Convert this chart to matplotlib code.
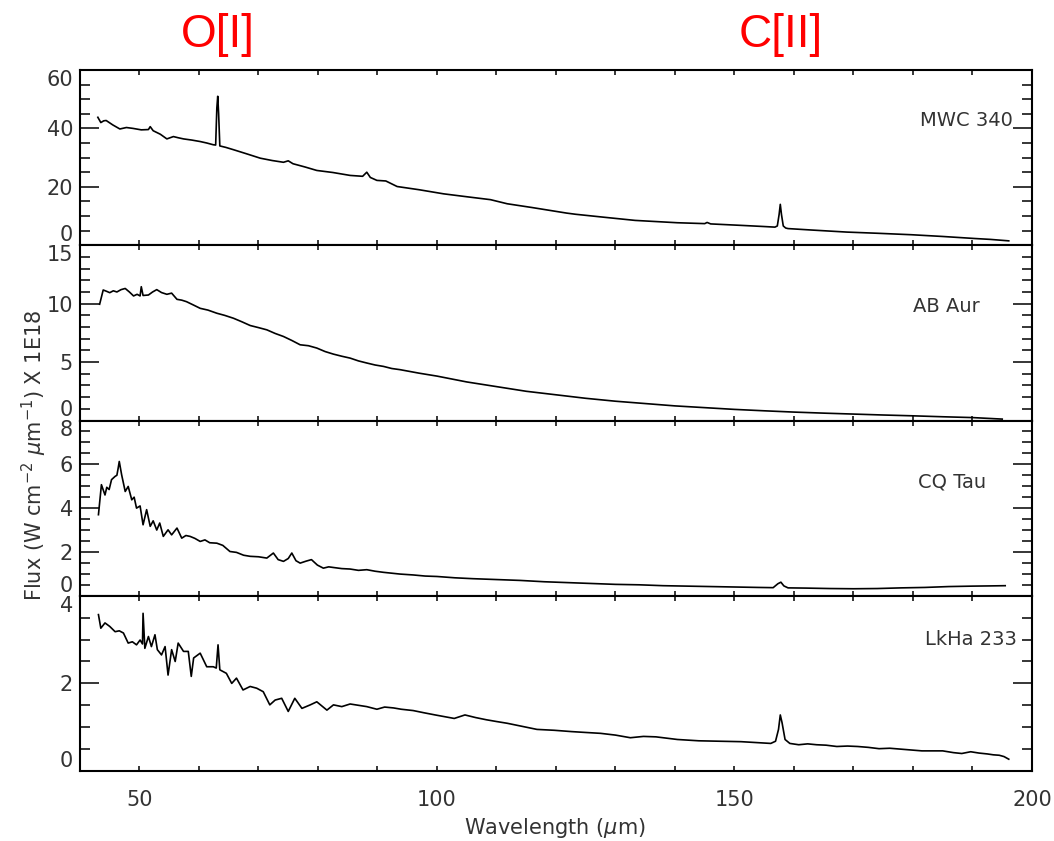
import matplotlib.pyplot as plt
import numpy as np
from matplotlib.ticker import MultipleLocator

# spectra (wavelength in micron, flux x 1E18)
wl_mwc = [43.0, 43.5, 44.0, 44.4, 45.5, 46.7, 47.8, 48.9, 50.3, 51.5, 51.8, 52.3,
          53.5, 54.6, 55.7, 56.5, 57.4, 58.8, 60.2, 61.3, 62.4, 62.8, 63.0, 63.15,
          63.3, 63.5, 64.5, 65.8, 68.0, 70.3, 72.3, 74.2, 75.0, 75.8, 77.8, 79.8,
          82.5, 85.4, 87.5, 88.2, 88.8, 89.9, 91.4, 93.3, 97.0, 101.1, 105.0, 109.0,
          111.8, 116.0, 121.8, 123.3, 128.0, 133.3, 140.4, 145.0, 145.4, 146.0,
          151.1, 155.0, 156.8, 157.2, 157.5, 157.7, 157.9, 158.2, 158.6, 159.0,
          163.0, 168.9, 174.0, 179.7, 185.0, 190.4, 193.0, 196.1]
flux_mwc = [43.8, 42.0, 42.6, 42.7, 41.2, 39.8, 40.3, 40.0, 39.5, 39.6, 40.6, 39.2,
            38.0, 36.4, 37.2, 36.8, 36.4, 36.0, 35.5, 35.0, 34.4, 34.3, 47.0, 51.0,
            45.0, 34.0, 33.5, 32.7, 31.3, 29.8, 29.0, 28.4, 28.9, 27.9, 26.8, 25.6,
            24.9, 23.9, 23.6, 25.0, 23.2, 22.2, 22.0, 20.1, 19.0, 17.6, 16.6, 15.6,
            14.2, 12.9, 11.0, 10.6, 9.6, 8.5, 7.7, 7.4, 7.8, 7.3,
            6.8, 6.4, 6.2, 6.6, 10.5, 14.0, 10.5, 6.6, 5.9, 5.7,
            5.2, 4.5, 4.1, 3.6, 3.0, 2.3, 2.0, 1.5]

wl_ab = [43.3, 43.9, 44.5, 45.0, 45.6, 46.2, 46.9, 47.6, 48.3, 49.0, 49.6, 50.1,
         50.3, 50.6, 51.5, 52.2, 52.9, 53.7, 54.6, 55.4, 56.3, 57.1, 57.9, 59.0,
         60.2, 61.5, 63.0, 64.3, 65.8, 67.2, 68.6, 70.0, 71.4, 72.8, 74.2, 75.6,
         77.0, 78.4, 79.8, 81.2, 82.6, 84.0, 85.4, 86.8, 88.2, 89.6, 91.0, 92.4,
         93.8, 97.0, 100, 105, 110, 115, 120, 125, 130, 135, 140, 145, 150, 155,
         160, 165, 170, 175, 180, 185, 190, 195]
flux_ab = [9.95, 11.17, 11.05, 10.94, 11.1, 11.0, 11.2, 11.3, 11.0, 10.66, 10.8, 10.66,
           11.45, 10.7, 10.74, 11.0, 11.2, 10.95, 10.8, 10.9, 10.37, 10.3, 10.17, 9.9,
           9.6, 9.45, 9.18, 9.0, 8.75, 8.45, 8.13, 7.95, 7.76, 7.45, 7.19, 6.85,
           6.48, 6.4, 6.2, 5.9, 5.68, 5.5, 5.34, 5.1, 4.92, 4.75, 4.63, 4.45,
           4.35, 4.05, 3.8, 3.3, 2.9, 2.5, 2.2, 1.9, 1.65, 1.45, 1.25, 1.1, 0.95, 0.83,
           0.72, 0.63, 0.55, 0.47, 0.4, 0.32, 0.25, 0.12]

wl_cq = [43.1, 43.6, 44.2, 44.5, 44.9, 45.3, 45.9, 46.2, 46.4, 46.6, 47.0, 47.6,
         48.1, 48.7, 49.1, 49.5, 50.1, 50.6, 51.2, 51.8, 52.3, 52.9, 53.4, 54.0,
         54.8, 55.4, 56.3, 57.1, 57.8, 58.5, 59.3, 60.2, 61.0, 61.8, 63.0, 64.0,
         65.2, 66.3, 67.5, 68.6, 70.0, 71.4, 72.5, 73.3, 74.2, 75.0, 75.6, 76.3,
         77.0, 78.0, 78.9, 79.9, 80.9, 81.8, 82.6, 84.0, 85.4, 86.8, 88.2, 89.6,
         91.0, 92.4, 93.8, 96, 98, 100, 103, 106, 110, 114, 118, 122, 126, 130,
         134, 138, 142, 146, 150, 154, 156.5, 157.3, 157.8, 158.3, 159, 162, 166,
         170, 174, 178, 182, 186, 190, 193, 195.5]
flux_cq = [3.7, 5.07, 4.6, 4.95, 4.85, 5.3, 5.45, 5.5, 5.8, 6.13, 5.52, 4.76,
           4.99, 4.38, 4.5, 4.0, 4.1, 3.24, 3.93, 3.17, 3.42, 3.0, 3.32, 2.71,
           3.01, 2.78, 3.09, 2.63, 2.75, 2.71, 2.62, 2.48, 2.55, 2.42, 2.4, 2.3,
           2.02, 1.98, 1.85, 1.8, 1.78, 1.72, 1.95, 1.65, 1.57, 1.7, 1.95, 1.6,
           1.49, 1.58, 1.65, 1.4, 1.26, 1.32, 1.29, 1.24, 1.22, 1.16, 1.19, 1.12,
           1.07, 1.03, 0.99, 0.95, 0.9, 0.88, 0.82, 0.78, 0.74, 0.7, 0.64, 0.6, 0.56, 0.52,
           0.5, 0.46, 0.44, 0.42, 0.4, 0.38, 0.37, 0.55, 0.62, 0.45, 0.36, 0.35, 0.33,
           0.32, 0.33, 0.36, 0.38, 0.42, 0.44, 0.45, 0.46]

wl_lk = [43.1, 43.5, 44.2, 45.0, 45.9, 46.6, 47.3, 48.1, 48.8, 49.5, 50.1, 50.5,
         50.6, 50.9, 51.5, 52.0, 52.6, 53.0, 53.7, 54.3, 54.8, 55.4, 56.0, 56.5,
         57.4, 58.2, 58.7, 59.1, 60.2, 61.3, 62.4, 62.9, 63.2, 63.5, 64.6, 65.5,
         66.3, 67.4, 68.6, 69.7, 70.8, 71.9, 72.8, 73.9, 75.0, 76.1, 77.3, 78.7,
         79.8, 81.5, 82.6, 84.0, 85.4, 86.8, 88.2, 89.9, 91.2, 92.7, 94.0, 96.0,
         97.8, 99.7, 101.3, 102.9, 104.7, 106.5, 108.3, 110.0, 111.8, 114.3, 116.8,
         119.7, 122.6, 125.0, 127.5, 130.0, 132.5, 134.7, 136.8, 140.4, 144.0,
         147.5, 151.1, 153.6, 156.1, 156.9, 157.4, 157.7, 158.0, 158.5, 159.3,
         160.8, 162.3, 163.8, 165.4, 167.2, 169.0, 170.7, 172.5, 174.3, 176.1,
         177.9, 179.7, 181.5, 183.3, 185.0, 186.8, 188.2, 189.7, 191.1, 192.5,
         193.5, 194.5, 195.3, 196.1]
flux_lk = [3.57, 3.26, 3.38, 3.3, 3.18, 3.2, 3.15, 2.92, 2.95, 2.88, 2.99, 2.9,
           3.6, 2.8, 3.07, 2.84, 3.11, 2.77, 2.65, 2.84, 2.19, 2.77, 2.5, 2.92,
           2.73, 2.73, 2.16, 2.58, 2.69, 2.38, 2.38, 2.35, 2.88, 2.31, 2.23, 2.0,
           2.12, 1.85, 1.93, 1.89, 1.81, 1.51, 1.62, 1.66, 1.36, 1.66, 1.43, 1.51,
           1.58, 1.39, 1.51, 1.47, 1.53, 1.5, 1.47, 1.41, 1.46, 1.44, 1.41, 1.38,
           1.33, 1.28, 1.24, 1.2, 1.28, 1.22, 1.17, 1.13, 1.09, 1.02, 0.95,
           0.93, 0.9, 0.88, 0.86, 0.82, 0.76, 0.79, 0.78, 0.72, 0.69,
           0.68, 0.67, 0.65, 0.63, 0.68, 0.95, 1.28, 1.1, 0.72, 0.63,
           0.6, 0.62, 0.6, 0.59, 0.56, 0.57, 0.56, 0.54, 0.51, 0.52,
           0.5, 0.48, 0.46, 0.46, 0.46, 0.42, 0.4, 0.44, 0.41, 0.39,
           0.37, 0.36, 0.33, 0.27]

names = ["MWC 340", "AB Aur", "CQ Tau", "LkHa 233"]
spectra = [(wl_mwc, flux_mwc), (wl_ab, flux_ab), (wl_cq, flux_cq), (wl_lk, flux_lk)]
y_tops = [60, 15, 8, 4]
y_major = [20, 5, 2, 2]
y_minor = [5, 1, 0.5, 0.5]

# where the star names sit (axes fraction, right edge)
name_pos = [(0.980, 0.714), (0.945, 0.651), (0.952, 0.651), (0.984, 0.749)]

txt = '#333333'
fig, axes = plt.subplots(4, 1, sharex=True, figsize=(10.54, 8.41), dpi=100)
fig.subplots_adjust(left=0.0759, right=0.9791, top=0.9168, bottom=0.0832, hspace=0)

for i, ax in enumerate(axes):
    wl, fl = spectra[i]
    ax.plot(wl, fl, color='black', lw=1.2)
    ax.set_xlim(40, 200)
    ax.set_ylim(0, y_tops[i])
    ax.set_yticks(np.arange(0, y_tops[i] + 0.01, y_major[i]))
    ax.yaxis.set_minor_locator(MultipleLocator(y_minor[i]))
    ax.set_xticks([50, 100, 150, 200])
    ax.xaxis.set_minor_locator(MultipleLocator(10))
    ax.tick_params(axis='y', which='major', direction='in', length=13.5, width=1.1,
                   left=True, right=True, labelsize=15, labelcolor=txt, pad=5)
    ax.tick_params(axis='y', which='minor', direction='in', length=7, width=1.1,
                   left=True, right=True)
    ax.tick_params(axis='x', which='both', direction='in', length=3.5, width=1.1,
                   top=True, bottom=True, labelsize=15, labelcolor=txt, pad=14)
    for sp in ax.spines.values():
        sp.set_linewidth(1.5)
    # IDL pushes the end labels inside the panel
    labs = ax.get_yticklabels()
    labs[0].set_va('bottom')
    labs[-1].set_va('top')
    ax.text(name_pos[i][0], name_pos[i][1], names[i], transform=ax.transAxes,
            ha='right', va='center', fontsize=14, color=txt)

fig.text(0.527, 0.0155, r'Wavelength ($\mu$m)', ha='center', va='center',
         fontsize=15, color=txt)
fig.text(0.033, 0.459, r'Flux (W cm$^{-2}$ $\mu$m$^{-1}$) X 1E18', rotation=90,
         ha='center', va='center', fontsize=15, color=txt)

# line identifications above the top panel
axes[0].text(63.2, 1.2, 'O[I]', transform=axes[0].get_xaxis_transform(),
             ha='center', va='center', fontsize=33, color='red', family='Liberation Sans')
axes[0].text(157.7, 1.2, 'C[II]', transform=axes[0].get_xaxis_transform(),
             ha='center', va='center', fontsize=33, color='red', family='Liberation Sans')

plt.savefig('out.png', dpi=100)
